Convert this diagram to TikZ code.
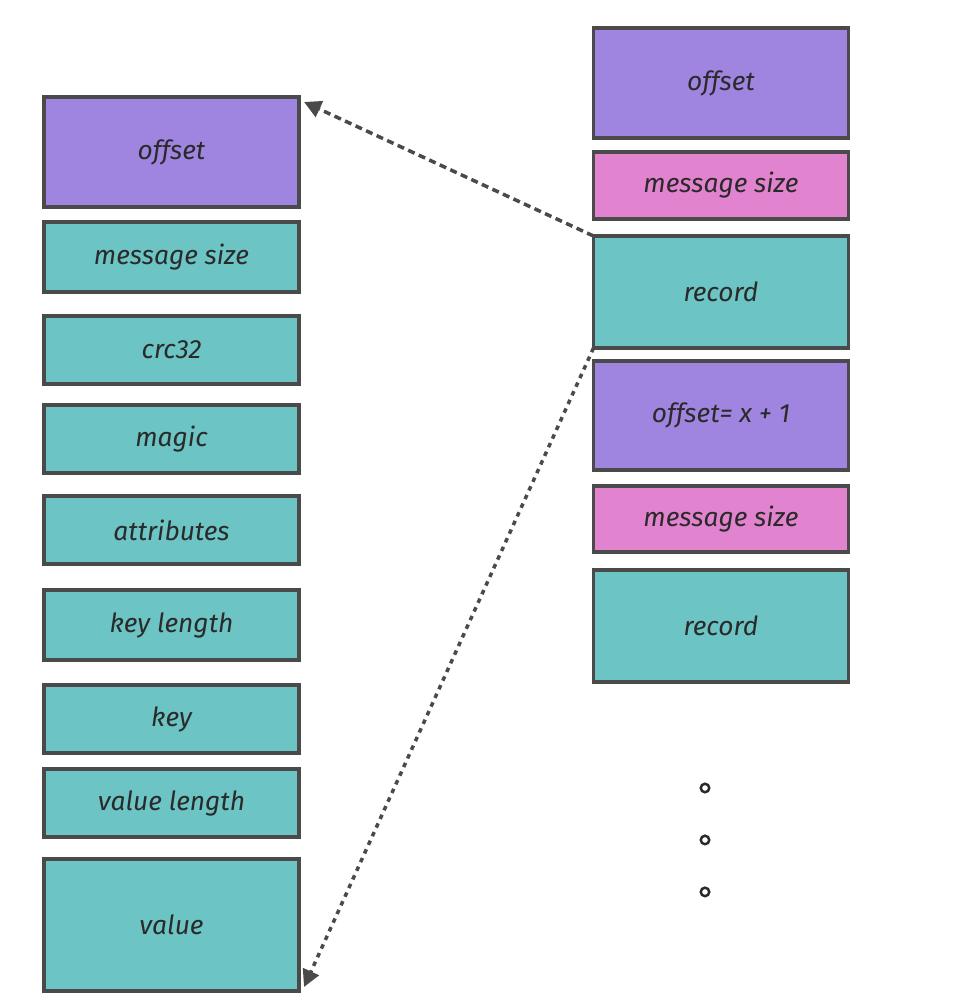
\documentclass[tikz,border=0pt]{standalone}
\usepackage{fontspec}
\setmainfont{Fira Sans}
\usetikzlibrary{arrows.meta,positioning}
\definecolor{ink}{HTML}{4A4A4A}
\definecolor{txt}{HTML}{2A2A2A}
\definecolor{violet}{HTML}{A085E0}
\definecolor{pink}{HTML}{E283CF}
\definecolor{teal}{HTML}{6CC4C4}
\tikzset{
  field/.style={draw=ink, line width=2.2pt, anchor=north, minimum width=5.1cm,
    inner sep=0pt, outer sep=0pt, font=\fontsize{15}{17}\selectfont\itshape, text=txt},
  offs/.style={field, fill=violet},
  size/.style={field, fill=pink},
  body/.style={field, fill=teal},
  link/.style={-{Triangle[length=3.4mm,width=3.4mm]}, line width=2pt, draw=ink,
    dash pattern=on 4pt off 2.6pt},
  dotlink/.style={link, dash pattern=on 2.6pt off 2.8pt},
  more/.style={circle, draw=txt, line width=1.4pt, inner sep=0pt, minimum size=1.7mm}
}
\begin{document}
\begin{tikzpicture}
\useasboundingbox (0,0) rectangle (19.12,-20.12);

% one message, field by field
\node[offs, minimum height=2.2cm] (loff) at (3.43,-1.94) {offset};
\node[body, minimum height=1.4cm, below=0.3cm of loff] (lsize) {message size};
\node[body, minimum height=1.36cm, below=0.48cm of lsize] (lcrc) {crc32};
\node[body, minimum height=1.36cm, below=0.42cm of lcrc] (lmagic) {magic};
\node[body, minimum height=1.36cm, below=0.46cm of lmagic] (lattr) {attributes};
\node[body, minimum height=1.4cm, below=0.52cm of lattr] (lklen) {key length};
\node[body, minimum height=1.36cm, below=0.5cm of lklen] (lkey) {key};
\node[body, minimum height=1.36cm, below=0.32cm of lkey] (lvlen) {value length};
\node[body, minimum height=2.64cm, below=0.44cm of lvlen] (lval) {value};

% the log, message after message
\node[offs, minimum height=2.2cm] (roff) at (14.42,-0.56) {offset};
\node[size, minimum height=1.34cm, below=0.28cm of roff] (rsize) {message size};
\node[body, minimum height=2.24cm, below=0.34cm of rsize] (rrec) {record};
\node[offs, minimum height=2.18cm, below=0.26cm of rrec] (roffb) {offset= x + 1};
\node[size, minimum height=1.32cm, below=0.32cm of roffb] (rsizeb) {message size};
\node[body, minimum height=2.24cm, below=0.36cm of rsizeb] (rrecb) {record};

\node[more] (dota) at (14.1,-15.76) {};
\node[more, below=0.82cm of dota] (dotb) {};
\node[more, below=0.82cm of dotb] (dotc) {};

\draw[link] (rrec.north west) -- ([xshift=0.1cm,yshift=-0.1cm]loff.north east);
\draw[dotlink] (rrec.south west) -- ([xshift=0.1cm,yshift=0.08cm]lval.south east);
\end{tikzpicture}
\end{document}
